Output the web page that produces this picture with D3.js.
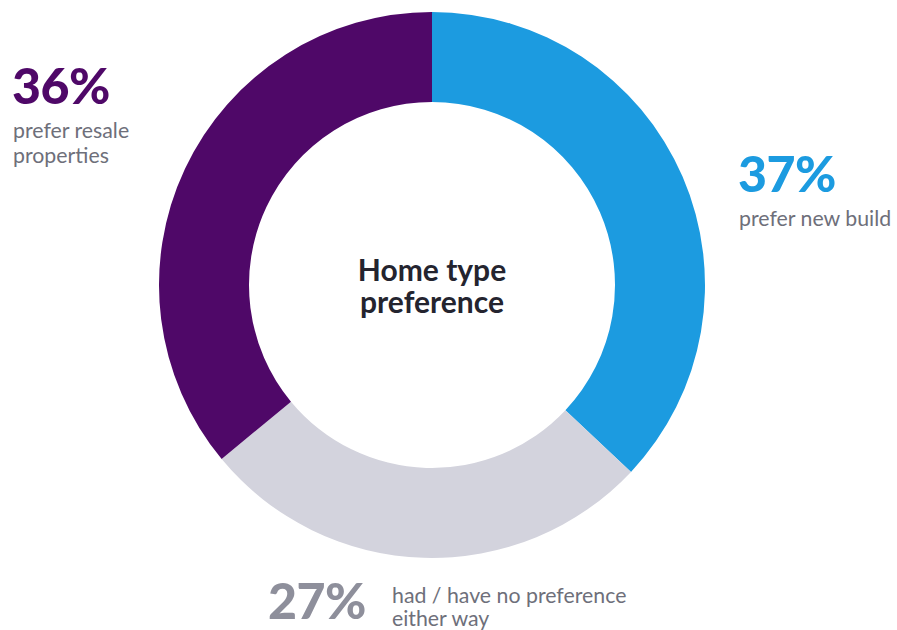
<!DOCTYPE html>
<html>
<head>
<meta charset="utf-8">
<script src="https://cdn.jsdelivr.net/npm/d3@7"></script>
<style>
  html, body { margin: 0; padding: 0; background: #ffffff; }
  svg { display: block; font-family: Lato, "Open Sans", sans-serif; }
</style>
</head>
<body>
<svg id="chart" width="897" height="630"></svg>
<script>
// Survey answers, drawn clockwise from twelve o'clock
const categories = ["prefer new build", "had / have no preference either way", "prefer resale properties"];
const shares = [37, 27, 36];
const colors = ["#1c9be0", "#d3d3dd", "#4f0868"];
const valueColors = ["#1c9be0", "#8e8f9b", "#4f0868"];
const titleLines = ["Home type", "preference"];

const svg = d3.select("#chart");
const cx = 432, cy = 285, outerR = 273, innerR = 183;

const pie = d3.pie().sort(null).value(d => d.value);
const arc = d3.arc().innerRadius(innerR).outerRadius(outerR);
const data = categories.map((c, i) => ({ label: c, value: shares[i], color: colors[i] }));

const g = svg.append("g").attr("transform", `translate(${cx},${cy})`);
g.selectAll("path")
  .data(pie(data))
  .join("path")
  .attr("d", arc)
  .attr("fill", d => d.data.color);

// Centre title
const title = svg.append("text")
  .attr("text-anchor", "middle")
  .attr("font-weight", 700)
  .attr("font-size", 30)
  .attr("fill", "#24242f");
titleLines.forEach((t, i) => {
  title.append("tspan").attr("x", cx).attr("y", 281 + i * 32).text(t);
});

// Callouts: big percentage plus a short caption
const fmt = v => `${v}%`;
const subColor = "#6e6f7a";

function callout(i, x, y, captionLines, capX, capY, capStep) {
  svg.append("text")
    .attr("x", x).attr("y", y)
    .attr("font-weight", 900)
    .attr("font-size", 50)
    .attr("letter-spacing", -0.5)
    .attr("fill", valueColors[i])
    .text(fmt(shares[i]));
  const cap = svg.append("text")
    .attr("font-size", 21.3)
    .attr("fill", subColor);
  captionLines.forEach((t, k) => {
    cap.append("tspan").attr("x", capX).attr("y", capY + k * capStep).text(t);
  });
}

callout(2, 12, 104, ["prefer resale", "properties"], 13, 138, 24.5);
callout(0, 738, 192, ["prefer new build"], 739, 226, 25);
callout(1, 268, 619, ["had / have no preference", "either way"], 392, 603, 23);
</script>
</body>
</html>
